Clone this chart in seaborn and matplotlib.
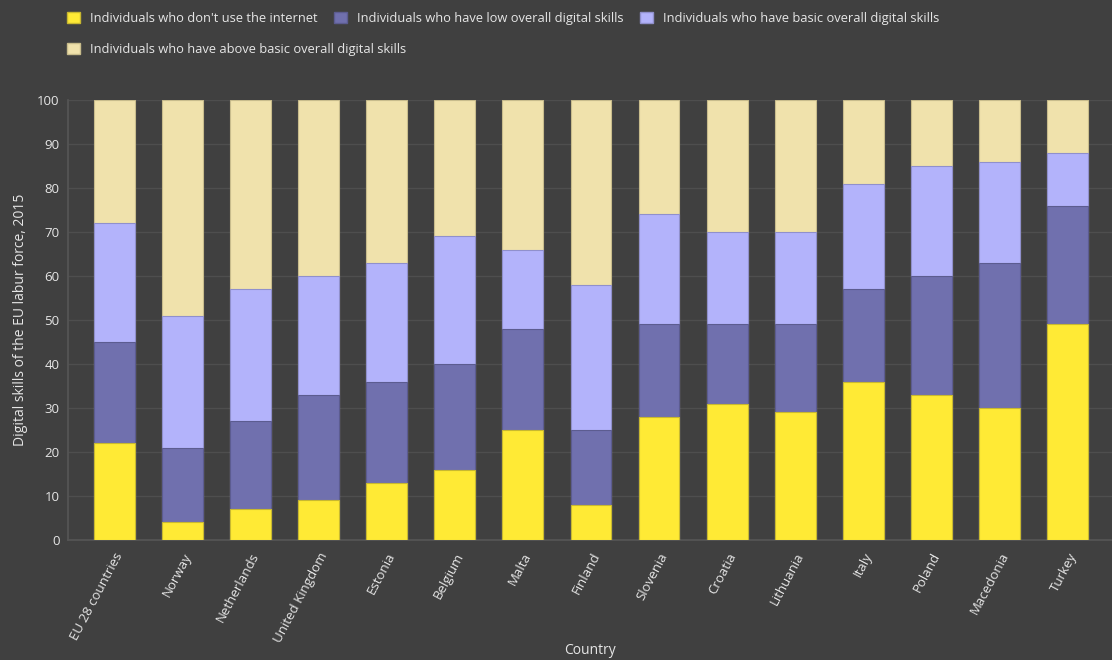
import matplotlib
matplotlib.use("Agg")
import matplotlib.pyplot as plt
import seaborn as sns
import pandas as pd
from matplotlib.patches import Patch

countries = ["EU 28 countries", "Norway", "Netherlands", "United Kingdom", "Estonia",
             "Belgium", "Malta", "Finland", "Slovenia", "Croatia", "Lithuania",
             "Italy", "Poland", "Macedonia", "Turkey"]
no_internet = [22, 4, 7, 9, 13, 16, 25, 8, 28, 31, 29, 36, 33, 30, 49]
low_skills = [23, 17, 20, 24, 23, 24, 23, 17, 21, 18, 20, 21, 27, 33, 27]
basic_skills = [27, 30, 30, 27, 27, 29, 18, 33, 25, 21, 21, 24, 25, 23, 12]
above_basic = [28, 49, 43, 40, 37, 31, 34, 42, 26, 30, 30, 19, 15, 14, 12]

series_names = ["Individuals who don't use the internet",
                "Individuals who have low overall digital skills",
                "Individuals who have basic overall digital skills",
                "Individuals who have above basic overall digital skills"]
colors = ["#ffea35", "#7070ae", "#b3b3fb", "#f0e2ac"]
edges = ["#c8b830", "#5c5c90", "#9090cc", "#c8bc8c"]

bg = "#404040"
txt = "#e6e6e6"

sns.set_theme(style="dark")
plt.rcParams["font.family"] = ["Open Sans", "DejaVu Sans"]

df = pd.DataFrame({"Country": countries, "s0": no_internet, "s1": low_skills,
                   "s2": basic_skills, "s3": above_basic})
df["c0"] = df["s0"]
df["c1"] = df["c0"] + df["s1"]
df["c2"] = df["c1"] + df["s2"]
df["c3"] = df["c2"] + df["s3"]

fig = plt.figure(figsize=(11.12, 6.6), dpi=100, facecolor=bg)
ax = fig.add_axes([0.061, 0.1818, 0.939, 0.6667])
ax.set_facecolor(bg)

for i in [3, 2, 1, 0]:
    sns.barplot(data=df, x="Country", y=f"c{i}", color=colors[i], width=0.6,
                edgecolor=edges[i], linewidth=0.8, saturation=1, ax=ax, zorder=3)

ax.set_ylim(0, 100)
ax.set_xlim(-0.68, 14.65)
ax.set_yticks(range(0, 101, 10))
ax.yaxis.grid(True, color="#4e4e4e", linewidth=1, zorder=0)
ax.xaxis.grid(False)
for s in ["top", "right"]:
    ax.spines[s].set_visible(False)
ax.spines["left"].set_color("#555555")
ax.spines["bottom"].set_color("#555555")
ax.tick_params(axis="y", colors=txt, labelsize=9.5, length=0, pad=6)
ax.tick_params(axis="x", colors=txt, labelsize=9.5, length=4, color="#555555")
plt.setp(ax.get_xticklabels(), rotation=62, ha="right", rotation_mode="anchor")
ax.set_xlabel("Country", color=txt, fontsize=10)
ax.set_ylabel("Digital skills of the EU labur force, 2015", color=txt, fontsize=10)
ax.xaxis.set_label_coords(0.5, -0.235)
ax.yaxis.set_label_coords(-0.038, 0.5)

handles = [Patch(facecolor=colors[i], edgecolor=edges[i], label=series_names[i]) for i in range(4)]
leg_kw = dict(frameon=False, fontsize=9.3, labelcolor=txt, handlelength=1.0,
              handleheight=1.0, handletextpad=0.75, columnspacing=1.3)
leg1 = fig.legend(handles=handles[:3], loc="upper left", bbox_to_anchor=(0.05, 1.0),
                  ncol=3, **leg_kw)
leg2 = fig.legend(handles=handles[3:], loc="upper left", bbox_to_anchor=(0.05, 0.953),
                  ncol=1, **leg_kw)

fig.savefig("out.png", dpi=100, facecolor=bg)
